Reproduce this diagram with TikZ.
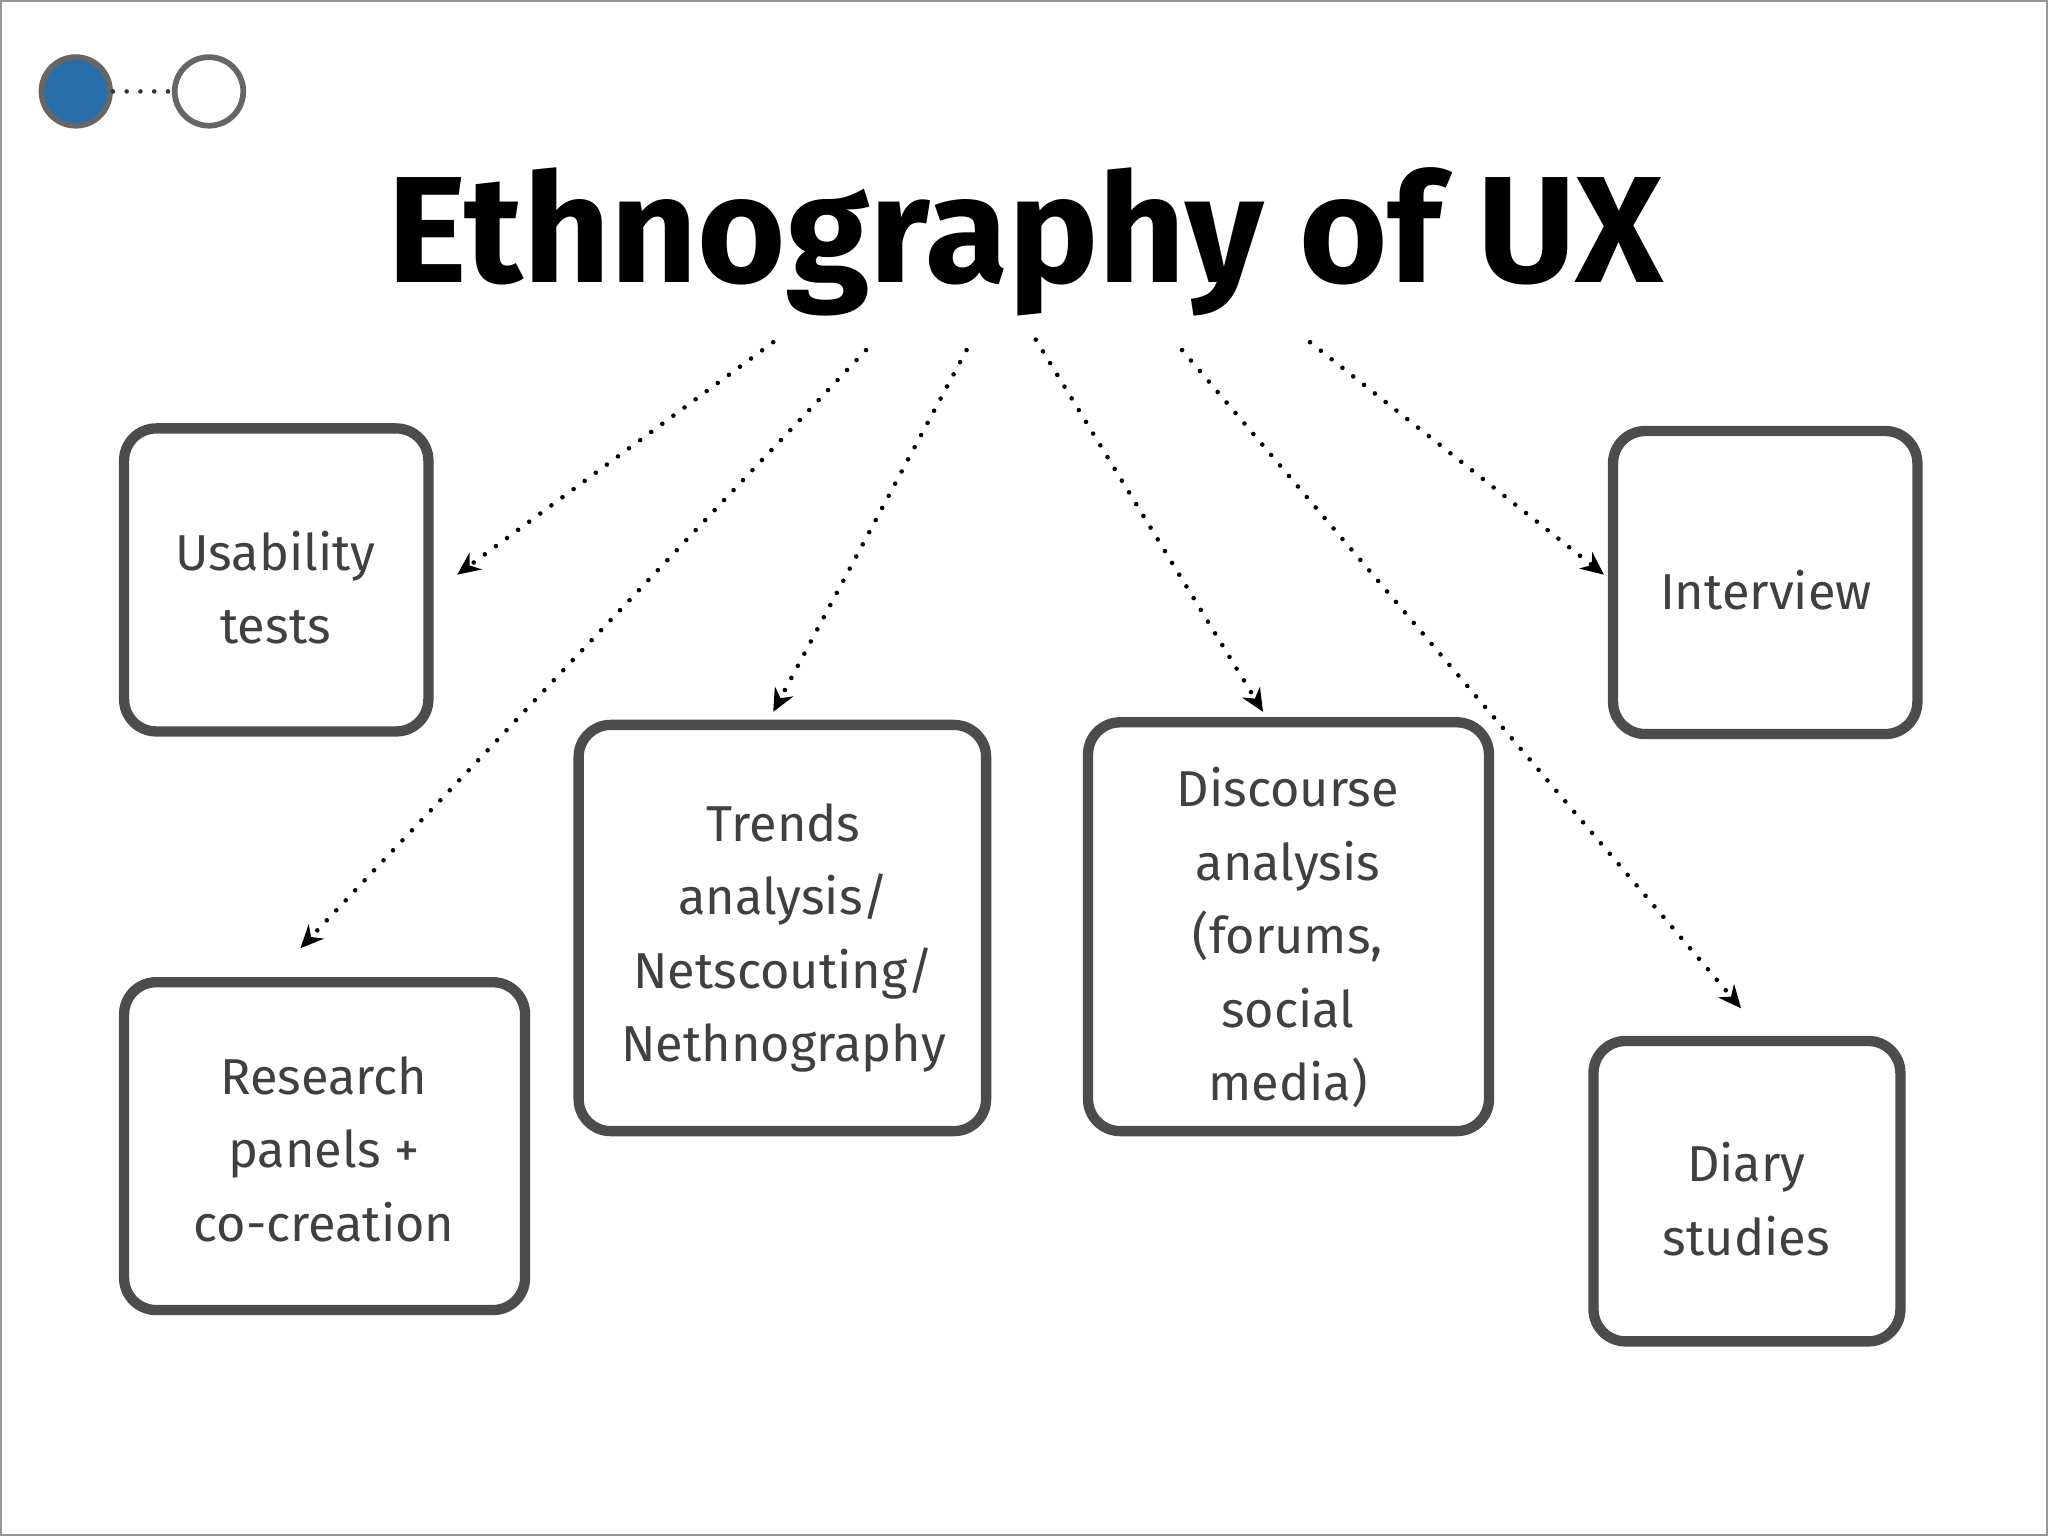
\documentclass[tikz,border=0pt]{standalone}
\usepackage{fontspec}
\setmainfont{Fira Sans}
\usetikzlibrary{arrows.meta}
\begin{document}
\begin{tikzpicture}[x=0.02cm,y=-0.02cm,
  box/.style={draw=black!70,line width=4.5pt,rounded corners=14pt,fill=white},
  lbl/.style={align=center,text=black!75,font=\fontsize{22}{32}\selectfont},
  arr/.style={line width=2pt,line cap=round,dash pattern=on 0pt off 6pt,-{Stealth[length=10pt,width=9pt,line cap=butt]}}]
\useasboundingbox (0,0) rectangle (1568,1176);
\draw[black!40,line width=1pt] (1,1) rectangle (1567,1175);
\node[circle,draw=black!60,line width=2.5pt,fill={rgb,255:red,40;green,110;blue,170},minimum size=1.05cm,inner sep=0] (c1) at (58,70) {};
\node[circle,draw=black!60,line width=2.5pt,fill=white,minimum size=1.05cm,inner sep=0] (c2) at (160,70) {};
\draw[line width=2pt,line cap=round,dash pattern=on 0pt off 6pt,black!80] (c1) -- (c2);
\node[font=\fontsize{66}{70}\selectfont\bfseries] (t) at (785,185) {Ethnography of UX};
\draw[box] (95,328) rectangle (328,560);
\node[lbl] (u) at (211,450) {Usability\\tests};
\draw[box] (95,752) rectangle (402,1003);
\node[lbl] (r) at (248,880) {Research\\panels +\\co-creation};
\draw[box] (443,555) rectangle (755,866);
\node[lbl] (tr) at (600,718) {Trends\\analysis/\\Netscouting/\\Nethnography};
\draw[box] (833,553) rectangle (1140,866);
\node[lbl] (d) at (986,718) {Discourse\\analysis\\(forums,\\social\\media)};
\draw[box] (1235,330) rectangle (1468,562);
\node[lbl] (i) at (1352,452) {Interview};
\draw[box] (1220,797) rectangle (1455,1027);
\node[lbl] (ds) at (1337,918) {Diary\\studies};
\coordinate (s1) at (592,262); \coordinate (e1) at (350,440);
\coordinate (s2) at (663,268); \coordinate (e2) at (230,726);
\coordinate (s3) at (740,268); \coordinate (e3) at (592,545);
\coordinate (s4) at (793,260); \coordinate (e4) at (967,545);
\coordinate (s5) at (905,268); \coordinate (e5) at (1333,772);
\coordinate (s6) at (1003,262); \coordinate (e6) at (1228,440);
\foreach \k in {1,...,6} \draw[arr] (s\k) -- (e\k);
\end{tikzpicture}
\end{document}
